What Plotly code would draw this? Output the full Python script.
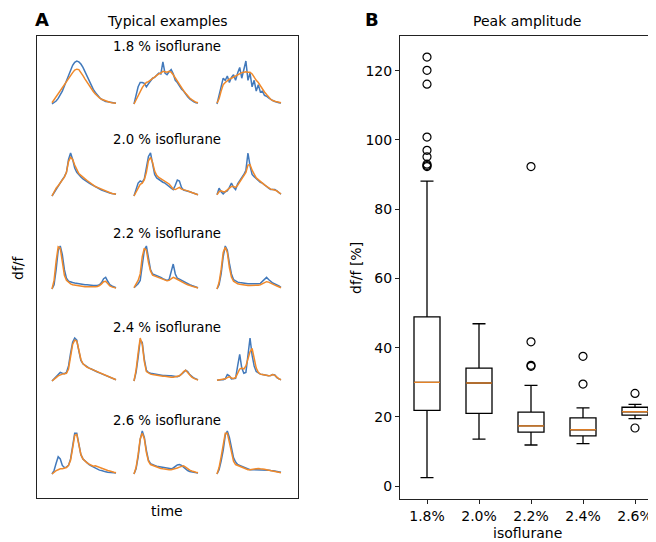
import plotly.graph_objects as go

W, H = 656, 542
OFF = 8  # page body margin of the browser
FW, FH = W - OFF, H - OFF

# ---------------- Panel B data: peak amplitude box statistics ----------------
conc_labels = ["1.8%", "2.0%", "2.2%", "2.4%", "2.6%"]
box_q1 = [21.9, 21.0, 15.6, 14.5, 20.5]
box_median = [30.0, 29.8, 17.4, 16.3, 21.5]
box_q3 = [48.9, 34.1, 21.4, 19.7, 22.8]
box_low = [2.5, 13.6, 11.9, 12.3, 19.5]
box_high = [88.1, 46.9, 29.1, 22.6, 23.6]
outlier_groups = [1, 1, 1, 1, 1, 1, 1, 1, 1, 3, 3, 3, 3, 4, 4, 5, 5]
outlier_values = [123.9, 120.1, 116.1, 100.8, 97.0, 95.1, 93.0, 92.6, 92.3,
                  92.3, 41.7, 34.9, 34.6, 37.5, 29.5, 26.8, 16.8]

# ---------------- Panel A data: typical normalised traces ----------------
row_titles = ["1.8 % isoflurane", "2.0 % isoflurane", "2.2 % isoflurane",
              "2.4 % isoflurane", "2.6 % isoflurane"]

blue_18_1 = [0.0, 0.03, 0.07, 0.13, 0.2, 0.3, 0.42, 0.55, 0.68, 0.8, 0.9, 0.97, 1.0, 0.98, 0.93, 0.85, 0.75, 0.64, 0.53, 0.43, 0.34, 0.27, 0.2, 0.15, 0.11, 0.08, 0.06, 0.05, 0.04, 0.03, 0.03, 0.02]
orange_18_1 = [0.03, 0.1, 0.18, 0.25, 0.33, 0.4, 0.46, 0.52, 0.58, 0.65, 0.73, 0.79, 0.81, 0.8, 0.74, 0.66, 0.58, 0.5, 0.43, 0.36, 0.29, 0.23, 0.18, 0.14, 0.11, 0.09, 0.07, 0.05, 0.04, 0.03, 0.03, 0.02]
blue_18_2 = [0.0, 0.2, 0.4, 0.5, 0.5, 0.48, 0.4, 0.47, 0.55, 0.6, 0.62, 0.68, 0.72, 0.7, 0.98, 0.72, 0.68, 0.75, 0.8, 0.7, 0.55, 0.5, 0.42, 0.35, 0.3, 0.22, 0.17, 0.12, 0.08, 0.05, 0.03, 0.02]
orange_18_2 = [0.0, 0.1, 0.2, 0.3, 0.38, 0.45, 0.5, 0.52, 0.56, 0.6, 0.63, 0.66, 0.7, 0.72, 0.76, 0.75, 0.74, 0.76, 0.74, 0.68, 0.6, 0.52, 0.45, 0.38, 0.31, 0.25, 0.19, 0.14, 0.1, 0.06, 0.04, 0.03]
blue_18_3 = [0.0, 0.2, 0.45, 0.6, 0.55, 0.65, 0.5, 0.62, 0.68, 0.55, 0.72, 0.85, 0.6, 0.78, 1.0, 0.55, 0.72, 0.4, 0.55, 0.3, 0.45, 0.28, 0.3, 0.2, 0.18, 0.14, 0.1, 0.08, 0.06, 0.04, 0.03, 0.02]
orange_18_3 = [0.02, 0.12, 0.3, 0.45, 0.5, 0.55, 0.58, 0.6, 0.63, 0.65, 0.68, 0.72, 0.73, 0.74, 0.75, 0.74, 0.74, 0.7, 0.62, 0.55, 0.5, 0.42, 0.35, 0.28, 0.22, 0.16, 0.11, 0.08, 0.06, 0.05, 0.04, 0.03]

blue_20_1 = [0.0, 0.08, 0.17, 0.25, 0.3, 0.38, 0.45, 0.55, 0.85, 1.0, 0.85, 0.65, 0.55, 0.48, 0.44, 0.4, 0.36, 0.33, 0.3, 0.27, 0.24, 0.21, 0.18, 0.16, 0.14, 0.12, 0.1, 0.09, 0.07, 0.06, 0.05, 0.04]
orange_20_1 = [0.0, 0.1, 0.18, 0.24, 0.3, 0.36, 0.44, 0.55, 0.8, 0.9, 0.85, 0.72, 0.6, 0.52, 0.48, 0.45, 0.4, 0.36, 0.32, 0.28, 0.24, 0.22, 0.2, 0.18, 0.15, 0.13, 0.12, 0.1, 0.08, 0.06, 0.05, 0.04]
blue_20_2 = [0.0, 0.15, 0.3, 0.35, 0.32, 0.4, 0.65, 0.92, 1.0, 0.75, 0.5, 0.42, 0.38, 0.35, 0.32, 0.3, 0.27, 0.22, 0.18, 0.15, 0.25, 0.37, 0.35, 0.2, 0.14, 0.13, 0.11, 0.1, 0.08, 0.06, 0.05, 0.03]
orange_20_2 = [0.0, 0.1, 0.2, 0.27, 0.3, 0.38, 0.55, 0.82, 0.9, 0.78, 0.58, 0.48, 0.43, 0.4, 0.38, 0.36, 0.33, 0.28, 0.22, 0.16, 0.15, 0.18, 0.2, 0.16, 0.15, 0.13, 0.12, 0.1, 0.08, 0.06, 0.04, 0.03]
blue_20_3 = [0.03, 0.18, 0.1, 0.05, 0.1, 0.12, 0.2, 0.3, 0.2, 0.15, 0.28, 0.35, 0.4, 0.5, 0.6, 1.0, 0.7, 0.5, 0.45, 0.4, 0.35, 0.32, 0.3, 0.27, 0.22, 0.18, 0.15, 0.15, 0.15, 0.12, 0.08, 0.04]
orange_20_3 = [0.03, 0.1, 0.12, 0.1, 0.1, 0.14, 0.17, 0.22, 0.22, 0.2, 0.25, 0.32, 0.38, 0.45, 0.55, 0.72, 0.73, 0.6, 0.5, 0.42, 0.38, 0.33, 0.3, 0.26, 0.22, 0.18, 0.16, 0.15, 0.14, 0.12, 0.08, 0.05]

blue_22_1 = [0.0, 0.1, 0.45, 0.9, 1.0, 0.8, 0.45, 0.25, 0.18, 0.16, 0.15, 0.14, 0.13, 0.12, 0.12, 0.11, 0.1, 0.1, 0.09, 0.09, 0.08, 0.08, 0.08, 0.1, 0.15, 0.24, 0.27, 0.18, 0.1, 0.07, 0.05, 0.03]
orange_22_1 = [0.0, 0.2, 0.65, 0.98, 0.95, 0.65, 0.32, 0.2, 0.15, 0.12, 0.1, 0.09, 0.08, 0.07, 0.07, 0.06, 0.05, 0.05, 0.05, 0.04, 0.05, 0.05, 0.06, 0.08, 0.12, 0.17, 0.18, 0.12, 0.07, 0.05, 0.04, 0.02]
blue_22_2 = [0.03, 0.08, 0.12, 0.2, 0.5, 0.9, 1.0, 0.7, 0.45, 0.35, 0.33, 0.32, 0.3, 0.27, 0.24, 0.22, 0.2, 0.22, 0.4, 0.58, 0.35, 0.25, 0.23, 0.2, 0.17, 0.15, 0.12, 0.1, 0.08, 0.06, 0.04, 0.03]
orange_22_2 = [0.03, 0.12, 0.2, 0.35, 0.75, 0.95, 0.9, 0.62, 0.42, 0.32, 0.3, 0.28, 0.27, 0.25, 0.23, 0.21, 0.19, 0.2, 0.24, 0.27, 0.25, 0.22, 0.2, 0.17, 0.15, 0.12, 0.1, 0.08, 0.06, 0.05, 0.04, 0.02]
blue_22_3 = [0.0, 0.1, 0.35, 0.75, 1.0, 0.9, 0.6, 0.35, 0.22, 0.18, 0.16, 0.15, 0.14, 0.13, 0.13, 0.12, 0.12, 0.12, 0.11, 0.11, 0.12, 0.13, 0.17, 0.23, 0.27, 0.22, 0.17, 0.14, 0.12, 0.1, 0.07, 0.04]
orange_22_3 = [0.0, 0.15, 0.45, 0.85, 0.97, 0.85, 0.5, 0.28, 0.18, 0.14, 0.12, 0.11, 0.1, 0.09, 0.09, 0.08, 0.08, 0.08, 0.08, 0.08, 0.09, 0.1, 0.12, 0.15, 0.17, 0.16, 0.13, 0.11, 0.09, 0.07, 0.05, 0.03]

blue_24_1 = [0.0, 0.05, 0.12, 0.17, 0.2, 0.18, 0.17, 0.2, 0.35, 0.65, 0.9, 1.0, 0.95, 0.7, 0.48, 0.4, 0.36, 0.33, 0.3, 0.28, 0.25, 0.23, 0.21, 0.19, 0.17, 0.15, 0.13, 0.11, 0.09, 0.07, 0.05, 0.03]
orange_24_1 = [0.0, 0.03, 0.08, 0.12, 0.15, 0.16, 0.17, 0.18, 0.28, 0.55, 0.85, 0.95, 0.93, 0.72, 0.5, 0.4, 0.35, 0.32, 0.3, 0.28, 0.26, 0.24, 0.22, 0.2, 0.17, 0.15, 0.13, 0.11, 0.09, 0.07, 0.05, 0.03]
blue_24_2 = [0.0, 0.2, 0.55, 0.95, 0.9, 0.5, 0.25, 0.2, 0.18, 0.17, 0.16, 0.15, 0.14, 0.14, 0.13, 0.13, 0.12, 0.12, 0.12, 0.11, 0.11, 0.1, 0.12, 0.15, 0.2, 0.25, 0.22, 0.15, 0.1, 0.07, 0.05, 0.03]
orange_24_2 = [0.0, 0.25, 0.65, 1.0, 0.85, 0.45, 0.22, 0.18, 0.16, 0.15, 0.14, 0.13, 0.12, 0.12, 0.11, 0.11, 0.1, 0.1, 0.09, 0.09, 0.1, 0.1, 0.12, 0.16, 0.22, 0.25, 0.2, 0.13, 0.09, 0.06, 0.04, 0.02]
blue_24_3 = [0.02, 0.03, 0.03, 0.03, 0.05, 0.15, 0.12, 0.05, 0.05, 0.06, 0.35, 0.62, 0.3, 0.18, 0.2, 0.55, 1.0, 0.6, 0.35, 0.22, 0.18, 0.16, 0.15, 0.14, 0.13, 0.12, 0.13, 0.15, 0.14, 0.08, 0.05, 0.03]
orange_24_3 = [0.02, 0.03, 0.03, 0.04, 0.05, 0.08, 0.1, 0.07, 0.06, 0.08, 0.18, 0.28, 0.3, 0.28, 0.35, 0.5, 0.68, 0.76, 0.55, 0.3, 0.2, 0.16, 0.15, 0.14, 0.13, 0.12, 0.13, 0.15, 0.13, 0.08, 0.05, 0.03]

blue_26_1 = [0.0, 0.08, 0.25, 0.4, 0.35, 0.2, 0.15, 0.16, 0.2, 0.35, 0.65, 0.95, 0.95, 0.65, 0.45, 0.35, 0.3, 0.26, 0.22, 0.19, 0.16, 0.13, 0.11, 0.09, 0.08, 0.06, 0.05, 0.04, 0.04, 0.03, 0.03, 0.02]
orange_26_1 = [0.0, 0.05, 0.08, 0.1, 0.12, 0.12, 0.13, 0.15, 0.2, 0.32, 0.6, 0.9, 0.92, 0.65, 0.45, 0.35, 0.3, 0.26, 0.23, 0.2, 0.18, 0.19, 0.17, 0.15, 0.13, 0.12, 0.1, 0.08, 0.07, 0.05, 0.04, 0.03]
blue_26_2 = [0.0, 0.12, 0.4, 0.8, 1.0, 0.85, 0.55, 0.32, 0.24, 0.21, 0.2, 0.18, 0.17, 0.16, 0.15, 0.14, 0.13, 0.12, 0.12, 0.14, 0.18, 0.21, 0.22, 0.2, 0.16, 0.11, 0.08, 0.06, 0.05, 0.04, 0.03, 0.02]
orange_26_2 = [0.0, 0.15, 0.45, 0.82, 0.95, 0.82, 0.5, 0.3, 0.22, 0.2, 0.18, 0.16, 0.14, 0.13, 0.12, 0.11, 0.11, 0.1, 0.1, 0.11, 0.12, 0.14, 0.16, 0.18, 0.19, 0.16, 0.12, 0.09, 0.07, 0.05, 0.04, 0.03]
blue_26_3 = [0.0, 0.1, 0.3, 0.55, 0.9, 1.0, 0.85, 0.6, 0.38, 0.28, 0.22, 0.2, 0.18, 0.15, 0.13, 0.11, 0.1, 0.1, 0.1, 0.1, 0.1, 0.1, 0.1, 0.1, 0.09, 0.09, 0.08, 0.08, 0.07, 0.06, 0.05, 0.04]
orange_26_3 = [0.0, 0.15, 0.4, 0.7, 0.95, 0.95, 0.75, 0.5, 0.3, 0.22, 0.2, 0.18, 0.15, 0.13, 0.11, 0.1, 0.1, 0.11, 0.12, 0.13, 0.13, 0.12, 0.12, 0.11, 0.1, 0.09, 0.08, 0.07, 0.06, 0.05, 0.04, 0.03]

trace_grid = [
    [(blue_18_1, orange_18_1), (blue_18_2, orange_18_2), (blue_18_3, orange_18_3)],
    [(blue_20_1, orange_20_1), (blue_20_2, orange_20_2), (blue_20_3, orange_20_3)],
    [(blue_22_1, orange_22_1), (blue_22_2, orange_22_2), (blue_22_3, orange_22_3)],
    [(blue_24_1, orange_24_1), (blue_24_2, orange_24_2), (blue_24_3, orange_24_3)],
    [(blue_26_1, orange_26_1), (blue_26_2, orange_26_2), (blue_26_3, orange_26_3)],
]

# ---------------- styling / layout helpers ----------------
BLUE = "#4279bb"
ORANGE = "#f0892a"
FONT = "DejaVu Sans"
AX = "#222222"


def px_x(p):
    """screen pixel x -> paper coordinate"""
    return (p - OFF) / FW


def px_y(p):
    """screen pixel y -> paper coordinate"""
    return 1 - (p - OFF) / FH


fig = go.Figure()
layout = dict(
    width=FW, height=FH, margin=dict(l=0, r=0, t=0, b=0),
    paper_bgcolor="white", plot_bgcolor="rgba(0,0,0,0)",
    showlegend=False, font=dict(family=FONT, size=14, color="black"),
)

# Panel A frame axes
A_left, A_right, A_top, A_bottom = 37, 298, 36, 498
layout["xaxis"] = dict(domain=[px_x(A_left), px_x(A_right)], range=[0, 1],
                       showline=True, mirror=True, linecolor=AX, linewidth=1,
                       showticklabels=False, ticks="", showgrid=False, zeroline=False,
                       anchor="y", fixedrange=True)
layout["yaxis"] = dict(domain=[px_y(A_bottom), px_y(A_top)], range=[0, 1],
                       showline=True, mirror=True, linecolor=AX, linewidth=1,
                       showticklabels=False, ticks="", showgrid=False, zeroline=False,
                       anchor="x", fixedrange=True)
fig.add_trace(go.Scatter(x=[], y=[], xaxis="x", yaxis="y", hoverinfo="skip"))

# mini axes for each example trace
col_starts = [52, 134, 217]
col_width = 64
row_baselines = [104, 196, 289, 381, 474]
row_height = 43
padx, pady = 3, 4
idx = 2
for r, row in enumerate(trace_grid):
    for c, (blue, orange) in enumerate(row):
        n = len(blue) - 1
        x0 = col_starts[c]
        base = row_baselines[r]
        rx = padx * n / col_width
        ry = pady / row_height
        layout[f"xaxis{idx}"] = dict(domain=[px_x(x0 - padx), px_x(x0 + col_width + padx)],
                                     range=[-rx, n + rx], visible=False, anchor=f"y{idx}",
                                     fixedrange=True)
        layout[f"yaxis{idx}"] = dict(domain=[px_y(base + pady), px_y(base - row_height - pady)],
                                     range=[-ry, 1 + ry], visible=False, anchor=f"x{idx}",
                                     fixedrange=True)
        t = list(range(len(blue)))
        fig.add_trace(go.Scatter(x=t, y=blue, mode="lines", line=dict(color=BLUE, width=1.5),
                                 xaxis=f"x{idx}", yaxis=f"y{idx}", hoverinfo="skip"))
        fig.add_trace(go.Scatter(x=t, y=orange, mode="lines", line=dict(color=ORANGE, width=1.5),
                                 xaxis=f"x{idx}", yaxis=f"y{idx}", hoverinfo="skip"))
        idx += 1

# Panel B axes (right part runs off the page, as in the reference)
bx = f"x{idx}"
by = f"y{idx}"
B_left, B_top, B_bottom = 400, 36, 499
pos_px0, pos_step = 427, 52   # screen x of first box and spacing
positions = [1, 2, 3, 4, 5]
x_lo = 1 - (pos_px0 - B_left) / pos_step
x_hi = x_lo + (W - B_left) / pos_step
layout[f"xaxis{idx}"] = dict(domain=[px_x(B_left), 1.0], range=[x_lo, x_hi],
                             tickvals=positions, ticktext=conc_labels,
                             showline=True, mirror=True, linecolor=AX, linewidth=1,
                             ticks="outside", ticklen=4, tickcolor=AX, tickwidth=1,
                             showgrid=False, zeroline=False, anchor=by,
                             tickfont=dict(family=FONT, size=14), fixedrange=True)
layout[f"yaxis{idx}"] = dict(domain=[px_y(B_bottom), px_y(B_top)], range=[-3.7, 130.0],
                             tickvals=[0, 20, 40, 60, 80, 100, 120],
                             showline=True, mirror=False, linecolor=AX, linewidth=1,
                             ticks="outside", ticklen=4, tickcolor=AX, tickwidth=1,
                             showgrid=False, zeroline=False, anchor=bx,
                             tickfont=dict(family=FONT, size=14), fixedrange=True)

box_w = 0.5
fig.add_trace(go.Box(x=positions, q1=box_q1, median=box_median, q3=box_q3,
                     lowerfence=box_low, upperfence=box_high, width=box_w,
                     whiskerwidth=0.5, boxpoints=False,
                     line=dict(color="black", width=1.3), fillcolor="rgba(0,0,0,0)",
                     xaxis=bx, yaxis=by, hoverinfo="skip"))
# orange median lines
med_x, med_y = [], []
for p, m in zip(positions, box_median):
    med_x += [p - box_w / 2, p + box_w / 2, None]
    med_y += [m, m, None]
fig.add_trace(go.Scatter(x=med_x, y=med_y, mode="lines", line=dict(color=ORANGE, width=1.3),
                         xaxis=bx, yaxis=by, hoverinfo="skip"))
fig.add_trace(go.Scatter(x=outlier_groups, y=outlier_values, mode="markers",
                         marker=dict(symbol="circle-open", size=8, color="black",
                                     line=dict(width=1.2, color="black")),
                         xaxis=bx, yaxis=by, hoverinfo="skip", cliponaxis=False))

fig.update_layout(**layout)

# ---------------- texts ----------------
ann = []


def text(x, y, s, size=14, angle=0, bold=False, xanchor="center"):
    ann.append(dict(x=px_x(x), y=px_y(y), xref="paper", yref="paper",
                    text=f"<b>{s}</b>" if bold else s,
                    showarrow=False, textangle=angle, xanchor=xanchor, yanchor="middle",
                    font=dict(family=FONT, size=size, color="black")))


text(33, 19, "A", size=18, bold=True, xanchor="left")
text(167, 21, "Typical examples", size=14)
text(363, 19, "B", size=18, bold=True, xanchor="left")
text(527, 21, "Peak amplitude", size=14)
text(18, 268, "df/f", size=14, angle=-90)
text(167, 511, "time", size=14)
text(356, 268, "df/f [%]", size=14, angle=-90)
text(527, 533, "isoflurane", size=14)
row_title_y = [47, 140, 234, 327, 420]
for s, yy in zip(row_titles, row_title_y):
    text(167, yy, s, size=13.3)

fig.update_layout(annotations=ann)
fig.write_html("out.html", config={"displayModeBar": False})
